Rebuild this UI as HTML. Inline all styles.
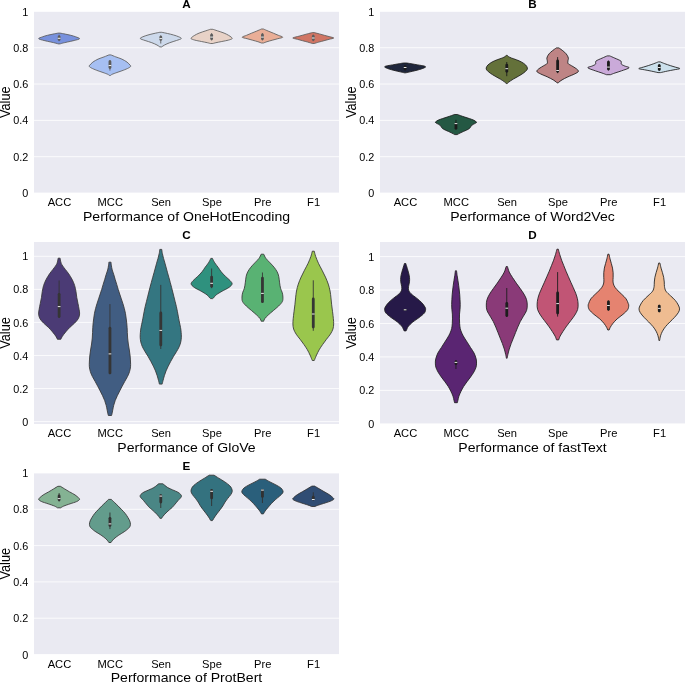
<!DOCTYPE html>
<html><head><meta charset="utf-8"><title>Violin plots</title>
<style>html,body{margin:0;padding:0;background:#fff}body{width:685px;height:682px;overflow:hidden;font-family:"Liberation Sans",sans-serif}</style>
</head><body>
<svg width="685" height="682" viewBox="0 0 685 682" style="display:block;will-change:transform;opacity:0.9999" font-family="'Liberation Sans', sans-serif" fill="#000">
<rect width="685" height="682" fill="#fff"/>
<g>
<rect x="34" y="11.4" width="305" height="181.6" fill="#eaeaf2"/>
<line x1="34" x2="339" y1="193" y2="193" stroke="#fff" stroke-width="0.8"/>
<text transform="translate(28.3 197.1) scale(1.05 1)" font-size="10.3" text-anchor="end">0</text>
<line x1="34" x2="339" y1="156.68" y2="156.68" stroke="#fff" stroke-width="0.8"/>
<text transform="translate(28.3 160.78) scale(1.05 1)" font-size="10.3" text-anchor="end">0.2</text>
<line x1="34" x2="339" y1="120.36" y2="120.36" stroke="#fff" stroke-width="0.8"/>
<text transform="translate(28.3 124.46) scale(1.05 1)" font-size="10.3" text-anchor="end">0.4</text>
<line x1="34" x2="339" y1="84.04" y2="84.04" stroke="#fff" stroke-width="0.8"/>
<text transform="translate(28.3 88.14) scale(1.05 1)" font-size="10.3" text-anchor="end">0.6</text>
<line x1="34" x2="339" y1="47.72" y2="47.72" stroke="#fff" stroke-width="0.8"/>
<text transform="translate(28.3 51.82) scale(1.05 1)" font-size="10.3" text-anchor="end">0.8</text>
<line x1="34" x2="339" y1="11.4" y2="11.4" stroke="#fff" stroke-width="0.8"/>
<text transform="translate(28.3 15.5) scale(1.05 1)" font-size="10.3" text-anchor="end">1</text>
<text transform="translate(186.5 7.9) scale(1.075 1)" font-size="10.9" text-anchor="middle" font-weight="bold">A</text>
<text transform="translate(59.42 206.3) scale(1.075 1)" font-size="10.4" text-anchor="middle">ACC</text>
<text transform="translate(110.25 206.3) scale(1.075 1)" font-size="10.4" text-anchor="middle">MCC</text>
<text transform="translate(161.08 206.3) scale(1.075 1)" font-size="10.4" text-anchor="middle">Sen</text>
<text transform="translate(211.92 206.3) scale(1.075 1)" font-size="10.4" text-anchor="middle">Spe</text>
<text transform="translate(262.75 206.3) scale(1.075 1)" font-size="10.4" text-anchor="middle">Pre</text>
<text transform="translate(313.58 206.3) scale(1.075 1)" font-size="10.4" text-anchor="middle">F1</text>
<text transform="translate(186.5 220.7) scale(1.082 1)" font-size="13.0" text-anchor="middle">Performance of OneHotEncoding</text>
<text transform="translate(9.5 102.2) scale(1.075 1) rotate(-90)" font-size="12.8" text-anchor="middle">Value</text>
<path d="M60.1 33.1C60.96 33.27 63.51 33.73 65.3 34.1C67.08 34.47 69.06 34.85 70.8 35.3C72.53 35.75 74.23 36.23 75.7 36.8C77.16 37.37 79.85 38.08 79.6 38.7C79.35 39.32 76.21 39.95 74.2 40.5C72.18 41.05 69.48 41.55 67.5 42C65.51 42.45 63.53 42.88 62.3 43.2C61.06 43.52 60.46 43.78 60.1 43.9L58.14 43.9C57.77 43.78 57.17 43.52 55.94 43.2C54.7 42.88 52.72 42.45 50.74 42C48.75 41.55 46.05 41.05 44.04 40.5C42.02 39.95 38.89 39.32 38.64 38.7C38.39 38.08 41.07 37.37 42.54 36.8C44 36.23 45.7 35.75 47.44 35.3C49.17 34.85 51.15 34.47 52.94 34.1C54.72 33.73 57.27 33.27 58.14 33.1Z" fill="#7891dd" stroke="#5c5c5c" stroke-width="0.85" stroke-linejoin="round"/>
<line x1="59.12" x2="59.12" y1="34.8" y2="41.2" stroke="#5c5c5c" stroke-width="0.9"/>
<line x1="59.12" x2="59.12" y1="36.8" y2="39.4" stroke="#5c5c5c" stroke-width="2.8" stroke-linecap="round"/>
<line x1="57.77" x2="60.47" y1="38.3" y2="38.3" stroke="#fff" stroke-width="0.9"/>
<path d="M110.93 54.9C111.75 55.23 114.01 56.2 115.83 56.9C117.65 57.6 119.96 58.23 121.83 59.1C123.7 59.97 125.66 61.1 127.03 62.1C128.4 63.1 129.41 64.4 130.03 65.1C130.65 65.8 130.98 65.82 130.73 66.3C130.48 66.78 129.78 67.33 128.53 68C127.28 68.67 125.16 69.55 123.23 70.3C121.3 71.05 118.78 71.83 116.93 72.5C115.08 73.17 113.18 73.82 112.13 74.3C111.08 74.78 110.88 75.22 110.63 75.4L109.27 75.4C109.02 75.22 108.82 74.78 107.77 74.3C106.72 73.82 104.82 73.17 102.97 72.5C101.12 71.83 98.6 71.05 96.67 70.3C94.74 69.55 92.62 68.67 91.37 68C90.12 67.33 89.42 66.78 89.17 66.3C88.92 65.82 89.25 65.8 89.87 65.1C90.49 64.4 91.5 63.1 92.87 62.1C94.24 61.1 96.2 59.97 98.07 59.1C99.94 58.23 102.25 57.6 104.07 56.9C105.89 56.2 108.15 55.23 108.97 54.9Z" fill="#a6bff2" stroke="#5c5c5c" stroke-width="0.85" stroke-linejoin="round"/>
<line x1="109.95" x2="109.95" y1="60.2" y2="70.6" stroke="#5c5c5c" stroke-width="0.9"/>
<line x1="109.95" x2="109.95" y1="61.7" y2="67.5" stroke="#5c5c5c" stroke-width="2.8" stroke-linecap="round"/>
<line x1="108.6" x2="111.3" y1="65.5" y2="65.5" stroke="#fff" stroke-width="0.9"/>
<path d="M161.76 32.3C162.73 32.5 165.6 33.05 167.56 33.5C169.53 33.95 171.7 34.45 173.56 35C175.43 35.55 177.48 36.2 178.76 36.8C180.05 37.4 181.65 37.98 181.26 38.6C180.88 39.22 178.38 39.82 176.46 40.5C174.55 41.18 171.75 41.95 169.76 42.7C167.78 43.45 165.9 44.3 164.56 45C163.23 45.7 162.23 46.58 161.76 46.9L159.8 46.9C159.34 46.58 158.34 45.7 157 45C155.67 44.3 153.79 43.45 151.8 42.7C149.82 41.95 147.02 41.18 145.1 40.5C143.19 39.82 140.69 39.22 140.3 38.6C139.92 37.98 141.52 37.4 142.8 36.8C144.09 36.2 146.14 35.55 148 35C149.87 34.45 152.04 33.95 154 33.5C155.97 33.05 158.84 32.5 159.8 32.3Z" fill="#cdd9eb" stroke="#5c5c5c" stroke-width="0.85" stroke-linejoin="round"/>
<line x1="160.78" x2="160.78" y1="35.3" y2="43.5" stroke="#5c5c5c" stroke-width="0.9"/>
<line x1="160.78" x2="160.78" y1="37.1" y2="39.4" stroke="#5c5c5c" stroke-width="2.8" stroke-linecap="round"/>
<line x1="159.43" x2="162.13" y1="38.6" y2="38.6" stroke="#fff" stroke-width="0.9"/>
<path d="M212.9 29.3C213.65 29.55 215.53 30.17 217.4 30.8C219.26 31.43 222.25 32.35 224.1 33.1C225.95 33.85 227.33 34.63 228.5 35.3C229.66 35.97 230.48 36.55 231.1 37.1C231.71 37.65 232.63 38.1 232.2 38.6C231.76 39.1 230.23 39.62 228.5 40.1C226.76 40.58 223.9 41.07 221.8 41.5C219.7 41.93 217.38 42.37 215.9 42.7C214.41 43.03 213.4 43.37 212.9 43.5L210.34 43.5C209.84 43.37 208.82 43.03 207.34 42.7C205.85 42.37 203.54 41.93 201.44 41.5C199.34 41.07 196.47 40.58 194.74 40.1C193 39.62 191.47 39.1 191.04 38.6C190.6 38.1 191.52 37.65 192.14 37.1C192.75 36.55 193.57 35.97 194.74 35.3C195.9 34.63 197.29 33.85 199.14 33.1C200.99 32.35 203.97 31.43 205.84 30.8C207.7 30.17 209.59 29.55 210.34 29.3Z" fill="#e8d2c7" stroke="#5c5c5c" stroke-width="0.85" stroke-linejoin="round"/>
<line x1="211.62" x2="211.62" y1="33.1" y2="40.5" stroke="#5c5c5c" stroke-width="0.9"/>
<line x1="211.62" x2="211.62" y1="35.2" y2="38.7" stroke="#5c5c5c" stroke-width="2.8" stroke-linecap="round"/>
<line x1="210.27" x2="212.97" y1="37.1" y2="37.1" stroke="#fff" stroke-width="0.9"/>
<path d="M263.43 29C264.23 29.35 266.56 30.4 268.23 31.1C269.9 31.8 271.75 32.5 273.43 33.2C275.11 33.9 276.78 34.63 278.33 35.3C279.88 35.97 282.81 36.63 282.73 37.2C282.65 37.77 279.56 38.2 277.83 38.7C276.1 39.2 274.13 39.7 272.33 40.2C270.53 40.7 268.51 41.23 267.03 41.7C265.55 42.17 264.03 42.78 263.43 43L261.47 43C260.87 42.78 259.35 42.17 257.87 41.7C256.39 41.23 254.37 40.7 252.57 40.2C250.77 39.7 248.8 39.2 247.07 38.7C245.34 38.2 242.25 37.77 242.17 37.2C242.09 36.63 245.02 35.97 246.57 35.3C248.12 34.63 249.79 33.9 251.47 33.2C253.15 32.5 255 31.8 256.67 31.1C258.34 30.4 260.67 29.35 261.47 29Z" fill="#e9ae97" stroke="#5c5c5c" stroke-width="0.85" stroke-linejoin="round"/>
<line x1="262.45" x2="262.45" y1="33.1" y2="40.5" stroke="#5c5c5c" stroke-width="0.9"/>
<line x1="262.45" x2="262.45" y1="34.9" y2="38.7" stroke="#5c5c5c" stroke-width="2.8" stroke-linecap="round"/>
<line x1="261.1" x2="263.8" y1="37.1" y2="37.1" stroke="#fff" stroke-width="0.9"/>
<path d="M314.26 32.6C315.11 32.82 317.68 33.45 319.36 33.9C321.05 34.35 322.73 34.85 324.36 35.3C326 35.75 327.6 36.15 329.16 36.6C330.73 37.05 333.76 37.55 333.76 38C333.76 38.45 330.78 38.85 329.16 39.3C327.55 39.75 325.8 40.23 324.06 40.7C322.33 41.17 320.4 41.63 318.76 42.1C317.13 42.57 315.01 43.27 314.26 43.5L312.3 43.5C311.55 43.27 309.44 42.57 307.8 42.1C306.17 41.63 304.24 41.17 302.5 40.7C300.77 40.23 299.02 39.75 297.4 39.3C295.79 38.85 292.8 38.45 292.8 38C292.8 37.55 295.84 37.05 297.4 36.6C298.97 36.15 300.57 35.75 302.2 35.3C303.84 34.85 305.52 34.35 307.2 33.9C308.89 33.45 311.45 32.82 312.3 32.6Z" fill="#d07564" stroke="#5c5c5c" stroke-width="0.85" stroke-linejoin="round"/>
<line x1="313.28" x2="313.28" y1="34.5" y2="41.2" stroke="#5c5c5c" stroke-width="0.9"/>
<line x1="313.28" x2="313.28" y1="36.4" y2="39.4" stroke="#5c5c5c" stroke-width="2.8" stroke-linecap="round"/>
<line x1="311.93" x2="314.63" y1="38" y2="38" stroke="#fff" stroke-width="0.9"/>
</g>
<g>
<rect x="380" y="11.4" width="305" height="181.6" fill="#eaeaf2"/>
<line x1="380" x2="685" y1="193" y2="193" stroke="#fff" stroke-width="0.8"/>
<text transform="translate(374.3 197.1) scale(1.05 1)" font-size="10.3" text-anchor="end">0</text>
<line x1="380" x2="685" y1="156.68" y2="156.68" stroke="#fff" stroke-width="0.8"/>
<text transform="translate(374.3 160.78) scale(1.05 1)" font-size="10.3" text-anchor="end">0.2</text>
<line x1="380" x2="685" y1="120.36" y2="120.36" stroke="#fff" stroke-width="0.8"/>
<text transform="translate(374.3 124.46) scale(1.05 1)" font-size="10.3" text-anchor="end">0.4</text>
<line x1="380" x2="685" y1="84.04" y2="84.04" stroke="#fff" stroke-width="0.8"/>
<text transform="translate(374.3 88.14) scale(1.05 1)" font-size="10.3" text-anchor="end">0.6</text>
<line x1="380" x2="685" y1="47.72" y2="47.72" stroke="#fff" stroke-width="0.8"/>
<text transform="translate(374.3 51.82) scale(1.05 1)" font-size="10.3" text-anchor="end">0.8</text>
<line x1="380" x2="685" y1="11.4" y2="11.4" stroke="#fff" stroke-width="0.8"/>
<text transform="translate(374.3 15.5) scale(1.05 1)" font-size="10.3" text-anchor="end">1</text>
<text transform="translate(532.5 7.9) scale(1.075 1)" font-size="10.9" text-anchor="middle" font-weight="bold">B</text>
<text transform="translate(405.42 206.3) scale(1.075 1)" font-size="10.4" text-anchor="middle">ACC</text>
<text transform="translate(456.25 206.3) scale(1.075 1)" font-size="10.4" text-anchor="middle">MCC</text>
<text transform="translate(507.08 206.3) scale(1.075 1)" font-size="10.4" text-anchor="middle">Sen</text>
<text transform="translate(557.92 206.3) scale(1.075 1)" font-size="10.4" text-anchor="middle">Spe</text>
<text transform="translate(608.75 206.3) scale(1.075 1)" font-size="10.4" text-anchor="middle">Pre</text>
<text transform="translate(659.58 206.3) scale(1.075 1)" font-size="10.4" text-anchor="middle">F1</text>
<text transform="translate(532.5 220.7) scale(1.082 1)" font-size="13.0" text-anchor="middle">Performance of Word2Vec</text>
<text transform="translate(355.5 102.2) scale(1.075 1) rotate(-90)" font-size="12.8" text-anchor="middle">Value</text>
<path d="M406.8 63C407.5 63.12 409.16 63.38 411 63.7C412.83 64.02 415.63 64.52 417.8 64.9C419.96 65.28 422.7 65.65 424 66C425.3 66.35 425.6 66.68 425.6 67C425.6 67.32 424.73 67.57 424 67.9C423.26 68.23 422.36 68.62 421.2 69C420.03 69.38 418.45 69.82 417 70.2C415.55 70.58 414.01 70.95 412.5 71.3C410.98 71.65 408.98 72.05 407.9 72.3C406.81 72.55 406.31 72.72 406 72.8L404.24 72.8C403.92 72.72 403.42 72.55 402.34 72.3C401.25 72.05 399.25 71.65 397.74 71.3C396.22 70.95 394.69 70.58 393.24 70.2C391.79 69.82 390.2 69.38 389.04 69C387.87 68.62 386.97 68.23 386.24 67.9C385.5 67.57 384.64 67.32 384.64 67C384.64 66.68 384.94 66.35 386.24 66C387.54 65.65 390.27 65.28 392.44 64.9C394.6 64.52 397.4 64.02 399.24 63.7C401.07 63.38 402.74 63.12 403.44 63Z" fill="#1f263c" stroke="#1b1b1b" stroke-width="0.85" stroke-linejoin="round"/>
<line x1="405.12" x2="405.12" y1="65.5" y2="70.3" stroke="#1b1b1b" stroke-width="0.9"/>
<line x1="405.12" x2="405.12" y1="66.7" y2="69.1" stroke="#1b1b1b" stroke-width="2.8" stroke-linecap="round"/>
<line x1="403.77" x2="406.47" y1="67.5" y2="67.5" stroke="#fff" stroke-width="0.9"/>
<path d="M457.63 114.5C458.08 114.68 459.13 115.17 460.33 115.6C461.53 116.03 463.31 116.6 464.83 117.1C466.35 117.6 467.98 118.1 469.43 118.6C470.88 119.1 472.43 119.58 473.53 120.1C474.63 120.62 475.53 121.32 476.03 121.7C476.53 122.08 476.75 122.08 476.53 122.4C476.31 122.72 475.48 123.15 474.73 123.6C473.98 124.05 472.73 124.53 472.03 125.1C471.33 125.67 470.96 126.43 470.53 127C470.1 127.57 470.06 128 469.43 128.5C468.8 129 467.75 129.5 466.73 130C465.71 130.5 464.46 130.98 463.33 131.5C462.2 132.02 460.95 132.58 459.93 133.1C458.91 133.62 457.68 134.35 457.23 134.6L454.67 134.6C454.22 134.35 452.99 133.62 451.97 133.1C450.95 132.58 449.7 132.02 448.57 131.5C447.44 130.98 446.19 130.5 445.17 130C444.15 129.5 443.1 129 442.47 128.5C441.84 128 441.8 127.57 441.37 127C440.94 126.43 440.57 125.67 439.87 125.1C439.17 124.53 437.92 124.05 437.17 123.6C436.42 123.15 435.59 122.72 435.37 122.4C435.15 122.08 435.37 122.08 435.87 121.7C436.37 121.32 437.27 120.62 438.37 120.1C439.47 119.58 441.02 119.1 442.47 118.6C443.92 118.1 445.55 117.6 447.07 117.1C448.59 116.6 450.37 116.03 451.57 115.6C452.77 115.17 453.82 114.68 454.27 114.5Z" fill="#245843" stroke="#1b1b1b" stroke-width="0.85" stroke-linejoin="round"/>
<line x1="455.95" x2="455.95" y1="119.8" y2="129.6" stroke="#1b1b1b" stroke-width="0.9"/>
<line x1="455.95" x2="455.95" y1="123.9" y2="128.2" stroke="#1b1b1b" stroke-width="2.8" stroke-linecap="round"/>
<line x1="454.6" x2="457.3" y1="123.6" y2="123.6" stroke="#fff" stroke-width="0.9"/>
<path d="M507.16 55.3C507.36 55.5 507.66 56.05 508.36 56.5C509.06 56.95 510.01 57.45 511.36 58C512.71 58.55 514.78 59.13 516.46 59.8C518.15 60.47 519.93 61.13 521.46 62C523 62.87 524.68 64 525.66 65C526.65 66 527.2 67.13 527.36 68C527.53 68.87 527.35 69.33 526.66 70.2C525.98 71.07 524.63 72.2 523.26 73.2C521.9 74.2 520.13 75.22 518.46 76.2C516.8 77.18 514.88 78.12 513.26 79.1C511.65 80.08 509.78 81.35 508.76 82.1C507.75 82.85 507.43 83.35 507.16 83.6L506.4 83.6C506.14 83.35 505.82 82.85 504.8 82.1C503.79 81.35 501.92 80.08 500.3 79.1C498.69 78.12 496.77 77.18 495.1 76.2C493.44 75.22 491.67 74.2 490.3 73.2C488.94 72.2 487.59 71.07 486.9 70.2C486.22 69.33 486.04 68.87 486.2 68C486.37 67.13 486.92 66 487.9 65C488.89 64 490.57 62.87 492.1 62C493.64 61.13 495.42 60.47 497.1 59.8C498.79 59.13 500.85 58.55 502.2 58C503.55 57.45 504.5 56.95 505.2 56.5C505.9 56.05 506.2 55.5 506.4 55.3Z" fill="#64713a" stroke="#1b1b1b" stroke-width="0.85" stroke-linejoin="round"/>
<line x1="506.78" x2="506.78" y1="62" y2="76.2" stroke="#1b1b1b" stroke-width="0.9"/>
<line x1="506.78" x2="506.78" y1="65.1" y2="71.3" stroke="#1b1b1b" stroke-width="2.8" stroke-linecap="round"/>
<line x1="505.43" x2="508.13" y1="68.7" y2="68.7" stroke="#fff" stroke-width="0.9"/>
<path d="M558.9 47.9C559.25 48.15 560.03 48.67 561 49.4C561.96 50.13 563.66 51.32 564.7 52.3C565.73 53.28 566.58 54.3 567.2 55.3C567.81 56.3 568.26 57.43 568.4 58.3C568.53 59.17 568.05 59.63 568 60.5C567.95 61.37 567.51 62.63 568.1 63.5C568.68 64.37 570.13 64.83 571.5 65.7C572.86 66.57 575.15 67.75 576.3 68.7C577.45 69.65 578.66 70.53 578.4 71.4C578.13 72.27 576.46 72.98 574.7 73.9C572.93 74.82 569.91 75.9 567.8 76.9C565.68 77.9 563.46 79.03 562 79.9C560.53 80.77 559.63 81.6 559 82.1C558.36 82.6 558.33 82.77 558.2 82.9L557.04 82.9C556.9 82.77 556.87 82.6 556.24 82.1C555.6 81.6 554.7 80.77 553.24 79.9C551.77 79.03 549.55 77.9 547.44 76.9C545.32 75.9 542.3 74.82 540.54 73.9C538.77 72.98 537.1 72.27 536.84 71.4C536.57 70.53 537.79 69.65 538.94 68.7C540.09 67.75 542.37 66.57 543.74 65.7C545.1 64.83 546.55 64.37 547.14 63.5C547.72 62.63 547.29 61.37 547.24 60.5C547.19 59.63 546.7 59.17 546.84 58.3C546.97 57.43 547.42 56.3 548.04 55.3C548.65 54.3 549.5 53.28 550.54 52.3C551.57 51.32 553.27 50.13 554.24 49.4C555.2 48.67 555.99 48.15 556.34 47.9Z" fill="#be8485" stroke="#1b1b1b" stroke-width="0.85" stroke-linejoin="round"/>
<line x1="557.62" x2="557.62" y1="57.1" y2="73.2" stroke="#1b1b1b" stroke-width="0.9"/>
<line x1="557.62" x2="557.62" y1="60.9" y2="71.3" stroke="#1b1b1b" stroke-width="2.8" stroke-linecap="round"/>
<line x1="556.27" x2="558.97" y1="70.5" y2="70.5" stroke="#fff" stroke-width="0.9"/>
<path d="M609.73 55.9C610.56 56.27 612.86 57.23 614.73 58.1C616.6 58.97 619.83 60.1 620.93 61.1C622.03 62.1 620.7 63.28 621.33 64.1C621.96 64.92 623.45 65.38 624.73 66C626.01 66.62 629.55 67 629.03 67.8C628.51 68.6 623.98 69.93 621.63 70.8C619.28 71.67 616.8 72.35 614.93 73C613.06 73.65 611.18 74.42 610.43 74.7L606.47 74.7C605.72 74.42 603.84 73.65 601.97 73C600.1 72.35 597.62 71.67 595.27 70.8C592.92 69.93 588.39 68.6 587.87 67.8C587.35 67 590.89 66.62 592.17 66C593.45 65.38 594.94 64.92 595.57 64.1C596.2 63.28 594.87 62.1 595.97 61.1C597.07 60.1 600.3 58.97 602.17 58.1C604.04 57.23 606.34 56.27 607.17 55.9Z" fill="#caaad9" stroke="#1b1b1b" stroke-width="0.85" stroke-linejoin="round"/>
<line x1="608.45" x2="608.45" y1="60.6" y2="70.4" stroke="#1b1b1b" stroke-width="0.9"/>
<line x1="608.45" x2="608.45" y1="62.2" y2="69" stroke="#1b1b1b" stroke-width="2.8" stroke-linecap="round"/>
<line x1="607.1" x2="609.8" y1="67.1" y2="67.1" stroke="#fff" stroke-width="0.9"/>
<path d="M660.26 61.9C661.01 62.2 663.1 63.08 664.76 63.7C666.43 64.32 668.53 65.03 670.26 65.6C672 66.17 673.58 66.6 675.16 67.1C676.75 67.6 679.96 68.15 679.76 68.6C679.56 69.05 676.05 69.38 673.96 69.8C671.88 70.22 669.5 70.63 667.26 71.1C665.03 71.57 661.68 72.35 660.56 72.6L658 72.6C656.89 72.35 653.54 71.57 651.3 71.1C649.07 70.63 646.69 70.22 644.6 69.8C642.52 69.38 639 69.05 638.8 68.6C638.6 68.15 641.82 67.6 643.4 67.1C644.99 66.6 646.57 66.17 648.3 65.6C650.04 65.03 652.14 64.32 653.8 63.7C655.47 63.08 657.55 62.2 658.3 61.9Z" fill="#cce0ec" stroke="#1b1b1b" stroke-width="0.85" stroke-linejoin="round"/>
<line x1="659.28" x2="659.28" y1="64.1" y2="70.8" stroke="#1b1b1b" stroke-width="0.9"/>
<line x1="659.28" x2="659.28" y1="65.6" y2="69.4" stroke="#1b1b1b" stroke-width="2.8" stroke-linecap="round"/>
<line x1="657.93" x2="660.63" y1="67.5" y2="67.5" stroke="#fff" stroke-width="0.9"/>
</g>
<g>
<rect x="34" y="242" width="305" height="182" fill="#eaeaf2"/>
<line x1="34" x2="339" y1="421.6" y2="421.6" stroke="#fff" stroke-width="0.8"/>
<text transform="translate(28.3 425.7) scale(1.05 1)" font-size="10.3" text-anchor="end">0</text>
<line x1="34" x2="339" y1="388.54" y2="388.54" stroke="#fff" stroke-width="0.8"/>
<text transform="translate(28.3 392.64) scale(1.05 1)" font-size="10.3" text-anchor="end">0.2</text>
<line x1="34" x2="339" y1="355.48" y2="355.48" stroke="#fff" stroke-width="0.8"/>
<text transform="translate(28.3 359.58) scale(1.05 1)" font-size="10.3" text-anchor="end">0.4</text>
<line x1="34" x2="339" y1="322.42" y2="322.42" stroke="#fff" stroke-width="0.8"/>
<text transform="translate(28.3 326.52) scale(1.05 1)" font-size="10.3" text-anchor="end">0.6</text>
<line x1="34" x2="339" y1="289.36" y2="289.36" stroke="#fff" stroke-width="0.8"/>
<text transform="translate(28.3 293.46) scale(1.05 1)" font-size="10.3" text-anchor="end">0.8</text>
<line x1="34" x2="339" y1="256.3" y2="256.3" stroke="#fff" stroke-width="0.8"/>
<text transform="translate(28.3 260.4) scale(1.05 1)" font-size="10.3" text-anchor="end">1</text>
<text transform="translate(186.5 238.5) scale(1.075 1)" font-size="10.9" text-anchor="middle" font-weight="bold">C</text>
<text transform="translate(59.42 437.3) scale(1.075 1)" font-size="10.4" text-anchor="middle">ACC</text>
<text transform="translate(110.25 437.3) scale(1.075 1)" font-size="10.4" text-anchor="middle">MCC</text>
<text transform="translate(161.08 437.3) scale(1.075 1)" font-size="10.4" text-anchor="middle">Sen</text>
<text transform="translate(211.92 437.3) scale(1.075 1)" font-size="10.4" text-anchor="middle">Spe</text>
<text transform="translate(262.75 437.3) scale(1.075 1)" font-size="10.4" text-anchor="middle">Pre</text>
<text transform="translate(313.58 437.3) scale(1.075 1)" font-size="10.4" text-anchor="middle">F1</text>
<text transform="translate(186.5 451.7) scale(1.082 1)" font-size="13.0" text-anchor="middle">Performance of GloVe</text>
<text transform="translate(9.5 333) scale(1.075 1) rotate(-90)" font-size="12.8" text-anchor="middle">Value</text>
<path d="M60.1 258.2C60.21 258.82 60.48 260.78 60.8 261.9C61.11 263.02 61.25 263.65 62 264.9C62.75 266.15 64.18 267.92 65.3 269.4C66.41 270.88 67.53 272.07 68.7 273.8C69.86 275.53 71.3 277.82 72.3 279.8C73.3 281.78 74.08 283.72 74.7 285.7C75.31 287.68 75.65 289.72 76 291.7C76.35 293.68 76.46 295.62 76.8 297.6C77.13 299.58 77.61 301.6 78 303.6C78.39 305.6 78.88 307.87 79.15 309.6C79.41 311.33 79.72 312.52 79.6 314C79.47 315.48 79.21 317 78.4 318.5C77.58 320 76.13 321.52 74.7 323C73.26 324.48 71.3 325.92 69.8 327.4C68.3 328.88 66.95 330.4 65.7 331.9C64.45 333.4 63.11 335.17 62.3 336.4C61.48 337.63 61.05 338.82 60.8 339.3L57.44 339.3C57.19 338.82 56.75 337.63 55.94 336.4C55.12 335.17 53.79 333.4 52.54 331.9C51.29 330.4 49.94 328.88 48.44 327.4C46.94 325.92 44.97 324.48 43.54 323C42.1 321.52 40.65 320 39.84 318.5C39.02 317 38.76 315.48 38.64 314C38.51 312.52 38.82 311.33 39.09 309.6C39.35 307.87 39.85 305.6 40.24 303.6C40.63 301.6 41.1 299.58 41.44 297.6C41.77 295.62 41.89 293.68 42.24 291.7C42.59 289.72 42.92 287.68 43.54 285.7C44.15 283.72 44.94 281.78 45.94 279.8C46.94 277.82 48.37 275.53 49.54 273.8C50.7 272.07 51.82 270.88 52.94 269.4C54.05 267.92 55.49 266.15 56.24 264.9C56.99 263.65 57.12 263.02 57.44 261.9C57.75 260.78 58.02 258.82 58.14 258.2Z" fill="#4b3b75" stroke="#353535" stroke-width="0.85" stroke-linejoin="round"/>
<line x1="59.12" x2="59.12" y1="280.5" y2="317.7" stroke="#353535" stroke-width="0.9"/>
<line x1="59.12" x2="59.12" y1="294.3" y2="316.6" stroke="#353535" stroke-width="2.8" stroke-linecap="round"/>
<line x1="57.77" x2="60.47" y1="306.6" y2="306.6" stroke="#fff" stroke-width="0.9"/>
<path d="M111.03 262.2C111.08 262.7 111.13 263.9 111.33 265.2C111.53 266.5 111.81 268.4 112.23 270C112.65 271.6 113.33 273.2 113.83 274.8C114.33 276.4 114.75 278 115.23 279.6C115.71 281.2 116.25 282.8 116.73 284.4C117.21 286 117.63 287.58 118.13 289.2C118.63 290.82 119.2 292.48 119.73 294.1C120.26 295.72 120.8 297.3 121.33 298.9C121.86 300.5 122.43 302.1 122.93 303.7C123.43 305.3 123.91 306.9 124.33 308.5C124.75 310.1 125.13 311.7 125.43 313.3C125.73 314.9 125.91 316.5 126.13 318.1C126.35 319.7 126.56 321.3 126.73 322.9C126.9 324.5 127.03 326.1 127.13 327.7C127.23 329.3 127.25 330.78 127.33 332.5C127.41 334.22 127.46 336.08 127.63 338C127.8 339.92 128.05 342 128.33 344C128.61 346 129.03 348 129.33 350C129.63 352 129.93 354 130.13 356C130.33 358 130.46 360.2 130.53 362C130.6 363.8 130.7 365.18 130.53 366.8C130.36 368.42 130.03 370.08 129.53 371.7C129.03 373.32 128.31 374.9 127.53 376.5C126.75 378.1 125.71 379.7 124.83 381.3C123.95 382.9 123.08 384.5 122.23 386.1C121.38 387.7 120.55 389.3 119.73 390.9C118.91 392.5 118.08 394.1 117.33 395.7C116.58 397.3 115.83 398.9 115.23 400.5C114.63 402.1 114.15 403.7 113.73 405.3C113.31 406.9 113.01 408.7 112.73 410.1C112.45 411.5 112.23 412.8 112.03 413.7C111.83 414.6 111.61 415.2 111.53 415.5L108.37 415.5C108.29 415.2 108.07 414.6 107.87 413.7C107.67 412.8 107.45 411.5 107.17 410.1C106.89 408.7 106.59 406.9 106.17 405.3C105.75 403.7 105.27 402.1 104.67 400.5C104.07 398.9 103.32 397.3 102.57 395.7C101.82 394.1 100.99 392.5 100.17 390.9C99.35 389.3 98.52 387.7 97.67 386.1C96.82 384.5 95.95 382.9 95.07 381.3C94.19 379.7 93.15 378.1 92.37 376.5C91.59 374.9 90.87 373.32 90.37 371.7C89.87 370.08 89.54 368.42 89.37 366.8C89.2 365.18 89.3 363.8 89.37 362C89.44 360.2 89.57 358 89.77 356C89.97 354 90.27 352 90.57 350C90.87 348 91.29 346 91.57 344C91.85 342 92.1 339.92 92.27 338C92.44 336.08 92.49 334.22 92.57 332.5C92.65 330.78 92.67 329.3 92.77 327.7C92.87 326.1 93 324.5 93.17 322.9C93.34 321.3 93.55 319.7 93.77 318.1C93.99 316.5 94.17 314.9 94.47 313.3C94.77 311.7 95.15 310.1 95.57 308.5C95.99 306.9 96.47 305.3 96.97 303.7C97.47 302.1 98.04 300.5 98.57 298.9C99.1 297.3 99.64 295.72 100.17 294.1C100.7 292.48 101.27 290.82 101.77 289.2C102.27 287.58 102.69 286 103.17 284.4C103.65 282.8 104.19 281.2 104.67 279.6C105.15 278 105.57 276.4 106.07 274.8C106.57 273.2 107.25 271.6 107.67 270C108.09 268.4 108.37 266.5 108.57 265.2C108.77 263.9 108.82 262.7 108.87 262.2Z" fill="#415d82" stroke="#353535" stroke-width="0.85" stroke-linejoin="round"/>
<line x1="109.95" x2="109.95" y1="304.1" y2="374.1" stroke="#353535" stroke-width="0.9"/>
<line x1="109.95" x2="109.95" y1="328.2" y2="372.9" stroke="#353535" stroke-width="2.8" stroke-linecap="round"/>
<line x1="108.6" x2="111.3" y1="353.9" y2="353.9" stroke="#fff" stroke-width="0.9"/>
<path d="M161.76 249.4C161.86 250.1 162.06 252.1 162.36 253.6C162.66 255.1 163.13 256.8 163.56 258.4C164 260 164.51 261.6 164.96 263.2C165.41 264.8 165.83 266.4 166.26 268C166.7 269.6 167.11 271.18 167.56 272.8C168.01 274.42 168.51 276.08 168.96 277.7C169.41 279.32 169.83 280.9 170.26 282.5C170.7 284.1 171.15 285.7 171.56 287.3C171.98 288.9 172.36 290.5 172.76 292.1C173.16 293.7 173.56 295.3 173.96 296.9C174.36 298.5 174.76 300.1 175.16 301.7C175.56 303.3 176 304.9 176.36 306.5C176.73 308.1 177.05 309.7 177.36 311.3C177.68 312.9 177.96 314.5 178.26 316.1C178.56 317.7 178.78 318.98 179.16 320.9C179.55 322.82 180.23 325.68 180.56 327.6C180.9 329.52 181.03 330.8 181.16 332.4C181.3 334 181.43 335.6 181.36 337.2C181.3 338.8 181.13 340.4 180.76 342C180.4 343.6 179.88 345.18 179.16 346.8C178.45 348.42 177.41 350.08 176.46 351.7C175.51 353.32 174.41 354.9 173.46 356.5C172.51 358.1 171.63 359.7 170.76 361.3C169.9 362.9 169.05 364.5 168.26 366.1C167.48 367.7 166.71 369.3 166.06 370.9C165.41 372.5 164.86 374.1 164.36 375.7C163.86 377.3 163.43 379.1 163.06 380.5C162.7 381.9 162.31 383.5 162.16 384.1L159.4 384.1C159.25 383.5 158.87 381.9 158.5 380.5C158.14 379.1 157.7 377.3 157.2 375.7C156.7 374.1 156.15 372.5 155.5 370.9C154.85 369.3 154.09 367.7 153.3 366.1C152.52 364.5 151.67 362.9 150.8 361.3C149.94 359.7 149.05 358.1 148.1 356.5C147.15 354.9 146.05 353.32 145.1 351.7C144.15 350.08 143.12 348.42 142.4 346.8C141.69 345.18 141.17 343.6 140.8 342C140.44 340.4 140.27 338.8 140.2 337.2C140.14 335.6 140.27 334 140.4 332.4C140.54 330.8 140.67 329.52 141 327.6C141.34 325.68 142.02 322.82 142.4 320.9C142.79 318.98 143 317.7 143.3 316.1C143.6 314.5 143.89 312.9 144.2 311.3C144.52 309.7 144.84 308.1 145.2 306.5C145.57 304.9 146 303.3 146.4 301.7C146.8 300.1 147.2 298.5 147.6 296.9C148 295.3 148.4 293.7 148.8 292.1C149.2 290.5 149.59 288.9 150 287.3C150.42 285.7 150.87 284.1 151.3 282.5C151.74 280.9 152.15 279.32 152.6 277.7C153.05 276.08 153.55 274.42 154 272.8C154.45 271.18 154.87 269.6 155.3 268C155.74 266.4 156.15 264.8 156.6 263.2C157.05 261.6 157.57 260 158 258.4C158.44 256.8 158.9 255.1 159.2 253.6C159.5 252.1 159.7 250.1 159.8 249.4Z" fill="#347681" stroke="#353535" stroke-width="0.85" stroke-linejoin="round"/>
<line x1="160.78" x2="160.78" y1="284.9" y2="349" stroke="#353535" stroke-width="0.9"/>
<line x1="160.78" x2="160.78" y1="313" y2="345.1" stroke="#353535" stroke-width="2.8" stroke-linecap="round"/>
<line x1="159.43" x2="162.13" y1="330.4" y2="330.4" stroke="#fff" stroke-width="0.9"/>
<path d="M212.4 258.4C212.8 259.15 213.85 261.42 214.8 262.9C215.75 264.38 217.03 265.82 218.1 267.3C219.16 268.78 219.98 270.3 221.2 271.8C222.41 273.3 223.9 274.82 225.4 276.3C226.9 277.78 229.08 279.42 230.2 280.7C231.31 281.98 232.3 282.88 232.1 284C231.9 285.12 230.66 286.2 229 287.4C227.33 288.6 224.23 289.95 222.1 291.2C219.96 292.45 217.63 293.78 216.2 294.9C214.76 296.02 214.1 297.28 213.5 297.9C212.9 298.52 212.75 298.48 212.6 298.6L210.64 298.6C210.49 298.48 210.34 298.52 209.74 297.9C209.14 297.28 208.47 296.02 207.04 294.9C205.6 293.78 203.27 292.45 201.14 291.2C199 289.95 195.9 288.6 194.24 287.4C192.57 286.2 191.34 285.12 191.14 284C190.94 282.88 191.92 281.98 193.04 280.7C194.15 279.42 196.34 277.78 197.84 276.3C199.34 274.82 200.82 273.3 202.04 271.8C203.25 270.3 204.07 268.78 205.14 267.3C206.2 265.82 207.49 264.38 208.44 262.9C209.39 261.42 210.44 259.15 210.84 258.4Z" fill="#2f917e" stroke="#353535" stroke-width="0.85" stroke-linejoin="round"/>
<line x1="211.62" x2="211.62" y1="268.5" y2="288.2" stroke="#353535" stroke-width="0.9"/>
<line x1="211.62" x2="211.62" y1="277.1" y2="286.3" stroke="#353535" stroke-width="2.8" stroke-linecap="round"/>
<line x1="210.27" x2="212.97" y1="283.3" y2="283.3" stroke="#fff" stroke-width="0.9"/>
<path d="M263.73 254.2C264.1 254.9 264.86 256.95 265.93 258.4C267 259.85 268.76 261.42 270.13 262.9C271.5 264.38 272.96 265.82 274.13 267.3C275.3 268.78 276.36 270.3 277.13 271.8C277.9 273.3 278.33 274.57 278.73 276.3C279.13 278.03 279.23 280.22 279.53 282.2C279.83 284.18 280.08 286.47 280.53 288.2C280.98 289.93 281.83 291.12 282.23 292.6C282.63 294.08 282.91 295.6 282.93 297.1C282.95 298.6 283.05 300.12 282.33 301.6C281.61 303.08 280.11 304.52 278.63 306C277.15 307.48 275.16 309 273.43 310.5C271.7 312 269.68 313.63 268.23 315C266.78 316.37 265.48 317.67 264.73 318.7C263.98 319.73 263.9 320.78 263.73 321.2L261.17 321.2C261 320.78 260.92 319.73 260.17 318.7C259.42 317.67 258.12 316.37 256.67 315C255.22 313.63 253.2 312 251.47 310.5C249.74 309 247.75 307.48 246.27 306C244.79 304.52 243.29 303.08 242.57 301.6C241.85 300.12 241.95 298.6 241.97 297.1C241.99 295.6 242.27 294.08 242.67 292.6C243.07 291.12 243.92 289.93 244.37 288.2C244.82 286.47 245.07 284.18 245.37 282.2C245.67 280.22 245.77 278.03 246.17 276.3C246.57 274.57 247 273.3 247.77 271.8C248.54 270.3 249.6 268.78 250.77 267.3C251.94 265.82 253.4 264.38 254.77 262.9C256.14 261.42 257.9 259.85 258.97 258.4C260.04 256.95 260.8 254.9 261.17 254.2Z" fill="#59b273" stroke="#353535" stroke-width="0.85" stroke-linejoin="round"/>
<line x1="262.45" x2="262.45" y1="272.5" y2="302.8" stroke="#353535" stroke-width="0.9"/>
<line x1="262.45" x2="262.45" y1="278.1" y2="301.7" stroke="#353535" stroke-width="2.8" stroke-linecap="round"/>
<line x1="261.1" x2="263.8" y1="293.4" y2="293.4" stroke="#fff" stroke-width="0.9"/>
<path d="M314.26 251.2C314.5 252.07 314.96 254.38 315.66 256.4C316.36 258.42 317.4 261 318.46 263.3C319.53 265.6 320.9 267.9 322.06 270.2C323.23 272.5 324.43 274.78 325.46 277.1C326.5 279.42 327.5 281.78 328.26 284.1C329.03 286.42 329.61 288.7 330.06 291C330.51 293.3 330.7 295.6 330.96 297.9C331.23 300.2 331.4 302.5 331.66 304.8C331.93 307.1 332.28 309.38 332.56 311.7C332.85 314.02 333.18 316.67 333.36 318.7C333.55 320.73 333.73 322.18 333.66 323.9C333.6 325.62 333.51 327.28 332.96 329C332.41 330.72 331.46 332.47 330.36 334.2C329.26 335.93 327.66 337.67 326.36 339.4C325.06 341.13 323.76 342.87 322.56 344.6C321.36 346.33 320.16 348.07 319.16 349.8C318.16 351.53 317.3 353.42 316.56 355C315.83 356.58 315.15 358.38 314.76 359.3C314.38 360.22 314.35 360.3 314.26 360.5L312.3 360.5C312.22 360.3 312.19 360.22 311.8 359.3C311.42 358.38 310.74 356.58 310 355C309.27 353.42 308.4 351.53 307.4 349.8C306.4 348.07 305.2 346.33 304 344.6C302.8 342.87 301.5 341.13 300.2 339.4C298.9 337.67 297.3 335.93 296.2 334.2C295.1 332.47 294.15 330.72 293.6 329C293.05 327.28 292.97 325.62 292.9 323.9C292.84 322.18 293.02 320.73 293.2 318.7C293.39 316.67 293.72 314.02 294 311.7C294.29 309.38 294.64 307.1 294.9 304.8C295.17 302.5 295.34 300.2 295.6 297.9C295.87 295.6 296.05 293.3 296.5 291C296.95 288.7 297.54 286.42 298.3 284.1C299.07 281.78 300.07 279.42 301.1 277.1C302.14 274.78 303.34 272.5 304.5 270.2C305.67 267.9 307.04 265.6 308.1 263.3C309.17 261 310.2 258.42 310.9 256.4C311.6 254.38 312.07 252.07 312.3 251.2Z" fill="#9ac64d" stroke="#353535" stroke-width="0.85" stroke-linejoin="round"/>
<line x1="313.28" x2="313.28" y1="280.3" y2="330.8" stroke="#353535" stroke-width="0.9"/>
<line x1="313.28" x2="313.28" y1="299" y2="327.1" stroke="#353535" stroke-width="2.8" stroke-linecap="round"/>
<line x1="311.93" x2="314.63" y1="314" y2="314" stroke="#fff" stroke-width="0.9"/>
</g>
<g>
<rect x="380" y="242" width="305" height="182" fill="#eaeaf2"/>
<line x1="380" x2="685" y1="423.8" y2="423.8" stroke="#fff" stroke-width="0.8"/>
<text transform="translate(374.3 427.9) scale(1.05 1)" font-size="10.3" text-anchor="end">0</text>
<line x1="380" x2="685" y1="390.36" y2="390.36" stroke="#fff" stroke-width="0.8"/>
<text transform="translate(374.3 394.46) scale(1.05 1)" font-size="10.3" text-anchor="end">0.2</text>
<line x1="380" x2="685" y1="356.92" y2="356.92" stroke="#fff" stroke-width="0.8"/>
<text transform="translate(374.3 361.02) scale(1.05 1)" font-size="10.3" text-anchor="end">0.4</text>
<line x1="380" x2="685" y1="323.48" y2="323.48" stroke="#fff" stroke-width="0.8"/>
<text transform="translate(374.3 327.58) scale(1.05 1)" font-size="10.3" text-anchor="end">0.6</text>
<line x1="380" x2="685" y1="290.04" y2="290.04" stroke="#fff" stroke-width="0.8"/>
<text transform="translate(374.3 294.14) scale(1.05 1)" font-size="10.3" text-anchor="end">0.8</text>
<line x1="380" x2="685" y1="256.6" y2="256.6" stroke="#fff" stroke-width="0.8"/>
<text transform="translate(374.3 260.7) scale(1.05 1)" font-size="10.3" text-anchor="end">1</text>
<text transform="translate(532.5 238.5) scale(1.075 1)" font-size="10.9" text-anchor="middle" font-weight="bold">D</text>
<text transform="translate(405.42 437.3) scale(1.075 1)" font-size="10.4" text-anchor="middle">ACC</text>
<text transform="translate(456.25 437.3) scale(1.075 1)" font-size="10.4" text-anchor="middle">MCC</text>
<text transform="translate(507.08 437.3) scale(1.075 1)" font-size="10.4" text-anchor="middle">Sen</text>
<text transform="translate(557.92 437.3) scale(1.075 1)" font-size="10.4" text-anchor="middle">Spe</text>
<text transform="translate(608.75 437.3) scale(1.075 1)" font-size="10.4" text-anchor="middle">Pre</text>
<text transform="translate(659.58 437.3) scale(1.075 1)" font-size="10.4" text-anchor="middle">F1</text>
<text transform="translate(532.5 451.7) scale(1.082 1)" font-size="13.0" text-anchor="middle">Performance of fastText</text>
<text transform="translate(355.5 333) scale(1.075 1) rotate(-90)" font-size="12.8" text-anchor="middle">Value</text>
<path d="M405.8 263.5C406.05 264.32 406.83 266.83 407.3 268.4C407.76 269.97 408.23 271.42 408.6 272.9C408.96 274.38 409.35 275.82 409.5 277.3C409.65 278.78 409.65 280.3 409.5 281.8C409.35 283.3 408.75 284.93 408.6 286.3C408.45 287.67 408.2 288.77 408.6 290C409 291.23 409.65 292.33 411 293.7C412.35 295.07 414.91 296.72 416.7 298.2C418.48 299.68 420.31 301.12 421.7 302.6C423.08 304.08 424.35 305.9 425 307.1C425.65 308.3 425.71 308.8 425.6 309.8C425.48 310.8 425.36 311.82 424.3 313.1C423.23 314.38 421.11 316.02 419.2 317.5C417.28 318.98 414.61 320.5 412.8 322C410.98 323.5 409.3 325.27 408.3 326.5C407.3 327.73 407.16 328.67 406.8 329.4C406.43 330.13 406.21 330.65 406.1 330.9L404.14 330.9C404.02 330.65 403.8 330.13 403.44 329.4C403.07 328.67 402.94 327.73 401.94 326.5C400.94 325.27 399.25 323.5 397.44 322C395.62 320.5 392.95 318.98 391.04 317.5C389.12 316.02 387 314.38 385.94 313.1C384.87 311.82 384.75 310.8 384.64 309.8C384.52 308.8 384.59 308.3 385.24 307.1C385.89 305.9 387.15 304.08 388.54 302.6C389.92 301.12 391.75 299.68 393.54 298.2C395.32 296.72 397.89 295.07 399.24 293.7C400.59 292.33 401.24 291.23 401.64 290C402.04 288.77 401.79 287.67 401.64 286.3C401.49 284.93 400.89 283.3 400.74 281.8C400.59 280.3 400.59 278.78 400.74 277.3C400.89 275.82 401.27 274.38 401.64 272.9C402 271.42 402.47 269.97 402.94 268.4C403.4 266.83 404.19 264.32 404.44 263.5Z" fill="#261948" stroke="#1d1d1d" stroke-width="0.85" stroke-linejoin="round"/>
<line x1="403.52" x2="406.72" y1="309.8" y2="309.8" stroke="#1d1d1d" stroke-width="1.6"/>
<line x1="403.77" x2="406.47" y1="309.8" y2="309.8" stroke="#fff" stroke-width="0.9"/>
<path d="M456.53 270.8C456.63 271.6 456.9 274 457.13 275.6C457.36 277.2 457.68 278.8 457.93 280.4C458.18 282 458.41 283.6 458.63 285.2C458.85 286.8 459.05 288.4 459.23 290C459.41 291.6 459.6 293.18 459.73 294.8C459.86 296.42 459.95 298.08 460.03 299.7C460.11 301.32 460.23 302.9 460.23 304.5C460.23 306.1 460.15 307.7 460.03 309.3C459.91 310.9 459.63 312.5 459.53 314.1C459.43 315.7 459.41 317.3 459.43 318.9C459.45 320.5 459.5 322.1 459.63 323.7C459.76 325.3 459.85 326.9 460.23 328.5C460.61 330.1 461.21 331.7 461.93 333.3C462.65 334.9 463.58 336.5 464.53 338.1C465.48 339.7 466.61 341.3 467.63 342.9C468.65 344.5 469.56 346.02 470.63 347.7C471.7 349.38 473.11 351.15 474.03 353C474.95 354.85 475.71 357.12 476.13 358.8C476.55 360.48 476.55 361.68 476.53 363.1C476.51 364.52 476.48 365.8 476.03 367.3C475.58 368.8 474.73 370.5 473.83 372.1C472.93 373.7 471.76 375.3 470.63 376.9C469.5 378.5 468.2 380.1 467.03 381.7C465.86 383.3 464.63 384.9 463.63 386.5C462.63 388.1 461.81 389.7 461.03 391.3C460.25 392.9 459.45 394.6 458.93 396.1C458.41 397.6 458.2 399.2 457.93 400.3C457.66 401.4 457.43 402.3 457.33 402.7L454.57 402.7C454.47 402.3 454.24 401.4 453.97 400.3C453.7 399.2 453.49 397.6 452.97 396.1C452.45 394.6 451.65 392.9 450.87 391.3C450.09 389.7 449.27 388.1 448.27 386.5C447.27 384.9 446.04 383.3 444.87 381.7C443.7 380.1 442.4 378.5 441.27 376.9C440.14 375.3 438.97 373.7 438.07 372.1C437.17 370.5 436.32 368.8 435.87 367.3C435.42 365.8 435.39 364.52 435.37 363.1C435.35 361.68 435.35 360.48 435.77 358.8C436.19 357.12 436.95 354.85 437.87 353C438.79 351.15 440.2 349.38 441.27 347.7C442.34 346.02 443.25 344.5 444.27 342.9C445.29 341.3 446.42 339.7 447.37 338.1C448.32 336.5 449.25 334.9 449.97 333.3C450.69 331.7 451.29 330.1 451.67 328.5C452.05 326.9 452.14 325.3 452.27 323.7C452.4 322.1 452.45 320.5 452.47 318.9C452.49 317.3 452.47 315.7 452.37 314.1C452.27 312.5 451.99 310.9 451.87 309.3C451.75 307.7 451.67 306.1 451.67 304.5C451.67 302.9 451.79 301.32 451.87 299.7C451.95 298.08 452.04 296.42 452.17 294.8C452.3 293.18 452.49 291.6 452.67 290C452.85 288.4 453.05 286.8 453.27 285.2C453.49 283.6 453.72 282 453.97 280.4C454.22 278.8 454.54 277.2 454.77 275.6C455 274 455.27 271.6 455.37 270.8Z" fill="#5a2572" stroke="#1d1d1d" stroke-width="0.85" stroke-linejoin="round"/>
<line x1="455.95" x2="455.95" y1="360" y2="369" stroke="#1d1d1d" stroke-width="0.9"/>
<line x1="455.95" x2="455.95" y1="361.8" y2="363.7" stroke="#1d1d1d" stroke-width="2.8" stroke-linecap="round"/>
<line x1="454.6" x2="457.3" y1="362.4" y2="362.4" stroke="#fff" stroke-width="0.9"/>
<path d="M507.46 266.6C507.76 267.52 508.41 270.27 509.26 272.1C510.11 273.93 511.4 275.77 512.56 277.6C513.73 279.43 514.98 281.27 516.26 283.1C517.55 284.93 518.98 286.77 520.26 288.6C521.55 290.43 522.91 292.27 523.96 294.1C525.01 295.93 526.01 297.77 526.56 299.6C527.11 301.43 527.26 303.27 527.26 305.1C527.26 306.93 527.2 308.77 526.56 310.6C525.93 312.43 524.51 314.27 523.46 316.1C522.41 317.93 521.21 319.77 520.26 321.6C519.31 323.43 518.55 325.27 517.76 327.1C516.98 328.93 516.3 330.77 515.56 332.6C514.83 334.43 514.1 336.27 513.36 338.1C512.63 339.93 511.85 341.77 511.16 343.6C510.48 345.43 509.81 347.27 509.26 349.1C508.71 350.93 508.21 353.08 507.86 354.6C507.51 356.12 507.28 357.6 507.16 358.2L506.4 358.2C506.29 357.6 506.05 356.12 505.7 354.6C505.35 353.08 504.85 350.93 504.3 349.1C503.75 347.27 503.09 345.43 502.4 343.6C501.72 341.77 500.94 339.93 500.2 338.1C499.47 336.27 498.74 334.43 498 332.6C497.27 330.77 496.59 328.93 495.8 327.1C495.02 325.27 494.25 323.43 493.3 321.6C492.35 319.77 491.15 317.93 490.1 316.1C489.05 314.27 487.64 312.43 487 310.6C486.37 308.77 486.3 306.93 486.3 305.1C486.3 303.27 486.45 301.43 487 299.6C487.55 297.77 488.55 295.93 489.6 294.1C490.65 292.27 492.02 290.43 493.3 288.6C494.59 286.77 496.02 284.93 497.3 283.1C498.59 281.27 499.84 279.43 501 277.6C502.17 275.77 503.45 273.93 504.3 272.1C505.15 270.27 505.8 267.52 506.1 266.6Z" fill="#8a3a78" stroke="#1d1d1d" stroke-width="0.85" stroke-linejoin="round"/>
<line x1="506.78" x2="506.78" y1="288" y2="317" stroke="#1d1d1d" stroke-width="0.9"/>
<line x1="506.78" x2="506.78" y1="303.4" y2="315.5" stroke="#1d1d1d" stroke-width="2.8" stroke-linecap="round"/>
<line x1="505.43" x2="508.13" y1="308.2" y2="308.2" stroke="#fff" stroke-width="0.9"/>
<path d="M558.3 249.2C558.55 250.12 559.25 252.87 559.8 254.7C560.35 256.53 560.93 258.37 561.6 260.2C562.26 262.03 563.06 263.87 563.8 265.7C564.53 267.53 565.23 269.37 566 271.2C566.76 273.03 567.6 274.87 568.4 276.7C569.2 278.53 569.98 280.37 570.8 282.2C571.61 284.03 572.48 285.87 573.3 287.7C574.11 289.53 575.01 291.37 575.7 293.2C576.38 295.03 577 296.88 577.4 298.7C577.8 300.52 578.06 302.28 578.1 304.1C578.13 305.92 578.15 307.77 577.6 309.6C577.05 311.43 575.93 313.27 574.8 315.1C573.66 316.93 572.16 318.77 570.8 320.6C569.43 322.43 567.91 324.27 566.6 326.1C565.28 327.93 563.98 329.92 562.9 331.6C561.81 333.28 560.8 334.82 560.1 336.2C559.4 337.58 558.93 339.28 558.7 339.9L556.54 339.9C556.3 339.28 555.84 337.58 555.14 336.2C554.44 334.82 553.42 333.28 552.34 331.6C551.25 329.92 549.95 327.93 548.64 326.1C547.32 324.27 545.8 322.43 544.44 320.6C543.07 318.77 541.57 316.93 540.44 315.1C539.3 313.27 538.19 311.43 537.64 309.6C537.09 307.77 537.1 305.92 537.14 304.1C537.17 302.28 537.44 300.52 537.84 298.7C538.24 296.88 538.85 295.03 539.54 293.2C540.22 291.37 541.12 289.53 541.94 287.7C542.75 285.87 543.62 284.03 544.44 282.2C545.25 280.37 546.04 278.53 546.84 276.7C547.64 274.87 548.47 273.03 549.24 271.2C550 269.37 550.7 267.53 551.44 265.7C552.17 263.87 552.97 262.03 553.64 260.2C554.3 258.37 554.89 256.53 555.44 254.7C555.99 252.87 556.69 250.12 556.94 249.2Z" fill="#c15575" stroke="#1d1d1d" stroke-width="0.85" stroke-linejoin="round"/>
<line x1="557.62" x2="557.62" y1="272.1" y2="316.6" stroke="#1d1d1d" stroke-width="0.9"/>
<line x1="557.62" x2="557.62" y1="293" y2="313.1" stroke="#1d1d1d" stroke-width="2.8" stroke-linecap="round"/>
<line x1="556.27" x2="558.97" y1="303.6" y2="303.6" stroke="#fff" stroke-width="0.9"/>
<path d="M609.03 254.2C609.2 254.98 609.65 257.35 610.03 258.9C610.41 260.45 610.91 261.97 611.33 263.5C611.75 265.03 612.23 266.57 612.53 268.1C612.83 269.63 613.03 271.17 613.13 272.7C613.23 274.23 613.15 275.75 613.13 277.3C613.11 278.85 612.86 280.58 613.03 282C613.2 283.42 613.5 284.53 614.13 285.8C614.76 287.07 615.56 288.18 616.83 289.6C618.1 291.02 620.18 292.75 621.73 294.3C623.28 295.85 625.05 297.37 626.13 298.9C627.21 300.43 627.8 302.35 628.23 303.5C628.66 304.65 628.83 304.77 628.73 305.8C628.63 306.83 628.58 308.28 627.63 309.7C626.68 311.12 624.78 312.77 623.03 314.3C621.28 315.83 618.83 317.37 617.13 318.9C615.43 320.43 613.98 322.08 612.83 323.5C611.68 324.92 610.85 326.32 610.23 327.4C609.61 328.48 609.31 329.57 609.13 330L607.77 330C607.59 329.57 607.29 328.48 606.67 327.4C606.05 326.32 605.22 324.92 604.07 323.5C602.92 322.08 601.47 320.43 599.77 318.9C598.07 317.37 595.62 315.83 593.87 314.3C592.12 312.77 590.22 311.12 589.27 309.7C588.32 308.28 588.27 306.83 588.17 305.8C588.07 304.77 588.24 304.65 588.67 303.5C589.1 302.35 589.69 300.43 590.77 298.9C591.85 297.37 593.62 295.85 595.17 294.3C596.72 292.75 598.8 291.02 600.07 289.6C601.34 288.18 602.14 287.07 602.77 285.8C603.4 284.53 603.7 283.42 603.87 282C604.04 280.58 603.79 278.85 603.77 277.3C603.75 275.75 603.67 274.23 603.77 272.7C603.87 271.17 604.07 269.63 604.37 268.1C604.67 266.57 605.15 265.03 605.57 263.5C605.99 261.97 606.49 260.45 606.87 258.9C607.25 257.35 607.7 254.98 607.87 254.2Z" fill="#e58370" stroke="#1d1d1d" stroke-width="0.85" stroke-linejoin="round"/>
<line x1="608.45" x2="608.45" y1="300.5" y2="310.6" stroke="#1d1d1d" stroke-width="0.9"/>
<line x1="608.45" x2="608.45" y1="301.8" y2="309.3" stroke="#1d1d1d" stroke-width="2.8" stroke-linecap="round"/>
<line x1="607.1" x2="609.8" y1="305.5" y2="305.5" stroke="#fff" stroke-width="0.9"/>
<path d="M659.86 263C660.06 263.85 660.63 266.48 661.06 268.1C661.5 269.72 662.03 271.17 662.46 272.7C662.9 274.23 663.36 275.75 663.66 277.3C663.96 278.85 664.13 280.45 664.26 282C664.4 283.55 664.18 285.07 664.46 286.6C664.75 288.13 664.95 289.67 665.96 291.2C666.98 292.73 669.01 294.27 670.56 295.8C672.11 297.33 673.98 298.87 675.26 300.4C676.55 301.93 677.55 303.58 678.26 305C678.98 306.42 679.56 307.62 679.56 308.9C679.56 310.18 679.11 311.28 678.26 312.7C677.41 314.12 675.86 315.85 674.46 317.4C673.06 318.95 671.35 320.47 669.86 322C668.38 323.53 666.8 325.07 665.56 326.6C664.33 328.13 663.3 329.67 662.46 331.2C661.63 332.73 661.04 334.25 660.56 335.8C660.09 337.35 659.79 339.72 659.63 340.5L658.93 340.5C658.78 339.72 658.48 337.35 658 335.8C657.53 334.25 656.94 332.73 656.1 331.2C655.27 329.67 654.24 328.13 653 326.6C651.77 325.07 650.19 323.53 648.7 322C647.22 320.47 645.5 318.95 644.1 317.4C642.7 315.85 641.15 314.12 640.3 312.7C639.45 311.28 639 310.18 639 308.9C639 307.62 639.59 306.42 640.3 305C641.02 303.58 642.02 301.93 643.3 300.4C644.59 298.87 646.45 297.33 648 295.8C649.55 294.27 651.59 292.73 652.6 291.2C653.62 289.67 653.82 288.13 654.1 286.6C654.39 285.07 654.17 283.55 654.3 282C654.44 280.45 654.6 278.85 654.9 277.3C655.2 275.75 655.67 274.23 656.1 272.7C656.54 271.17 657.07 269.72 657.5 268.1C657.94 266.48 658.5 263.85 658.7 263Z" fill="#efbc91" stroke="#1d1d1d" stroke-width="0.85" stroke-linejoin="round"/>
<line x1="659.28" x2="659.28" y1="304.8" y2="312.2" stroke="#1d1d1d" stroke-width="0.9"/>
<line x1="659.28" x2="659.28" y1="306.1" y2="310.9" stroke="#1d1d1d" stroke-width="2.8" stroke-linecap="round"/>
<line x1="657.93" x2="660.63" y1="308.4" y2="308.4" stroke="#fff" stroke-width="0.9"/>
</g>
<g>
<rect x="34" y="473" width="305" height="181.5" fill="#eaeaf2"/>
<line x1="34" x2="339" y1="654.5" y2="654.5" stroke="#fff" stroke-width="0.8"/>
<text transform="translate(28.3 658.6) scale(1.05 1)" font-size="10.3" text-anchor="end">0</text>
<line x1="34" x2="339" y1="618.2" y2="618.2" stroke="#fff" stroke-width="0.8"/>
<text transform="translate(28.3 622.3) scale(1.05 1)" font-size="10.3" text-anchor="end">0.2</text>
<line x1="34" x2="339" y1="581.9" y2="581.9" stroke="#fff" stroke-width="0.8"/>
<text transform="translate(28.3 586) scale(1.05 1)" font-size="10.3" text-anchor="end">0.4</text>
<line x1="34" x2="339" y1="545.6" y2="545.6" stroke="#fff" stroke-width="0.8"/>
<text transform="translate(28.3 549.7) scale(1.05 1)" font-size="10.3" text-anchor="end">0.6</text>
<line x1="34" x2="339" y1="509.3" y2="509.3" stroke="#fff" stroke-width="0.8"/>
<text transform="translate(28.3 513.4) scale(1.05 1)" font-size="10.3" text-anchor="end">0.8</text>
<line x1="34" x2="339" y1="473" y2="473" stroke="#fff" stroke-width="0.8"/>
<text transform="translate(28.3 477.1) scale(1.05 1)" font-size="10.3" text-anchor="end">1</text>
<text transform="translate(186.5 469.5) scale(1.075 1)" font-size="10.9" text-anchor="middle" font-weight="bold">E</text>
<text transform="translate(59.42 667.8) scale(1.075 1)" font-size="10.4" text-anchor="middle">ACC</text>
<text transform="translate(110.25 667.8) scale(1.075 1)" font-size="10.4" text-anchor="middle">MCC</text>
<text transform="translate(161.08 667.8) scale(1.075 1)" font-size="10.4" text-anchor="middle">Sen</text>
<text transform="translate(211.92 667.8) scale(1.075 1)" font-size="10.4" text-anchor="middle">Spe</text>
<text transform="translate(262.75 667.8) scale(1.075 1)" font-size="10.4" text-anchor="middle">Pre</text>
<text transform="translate(313.58 667.8) scale(1.075 1)" font-size="10.4" text-anchor="middle">F1</text>
<text transform="translate(186.5 682.2) scale(1.082 1)" font-size="13.0" text-anchor="middle">Performance of ProtBert</text>
<text transform="translate(9.5 563.75) scale(1.075 1) rotate(-90)" font-size="12.8" text-anchor="middle">Value</text>
<path d="M60.4 486.3C61.1 486.73 63.06 487.97 64.6 488.9C66.13 489.83 67.86 490.9 69.6 491.9C71.33 492.9 73.5 493.9 75 494.9C76.5 495.9 77.83 497.15 78.6 497.9C79.36 498.65 79.93 498.78 79.6 499.4C79.26 500.02 78.18 500.87 76.6 501.6C75.01 502.33 72.25 503.05 70.1 503.8C67.95 504.55 65.26 505.43 63.7 506.1C62.13 506.77 61.2 507.52 60.7 507.8L57.54 507.8C57.04 507.52 56.1 506.77 54.54 506.1C52.97 505.43 50.29 504.55 48.14 503.8C45.99 503.05 43.22 502.33 41.64 501.6C40.05 500.87 38.97 500.02 38.64 499.4C38.3 498.78 38.87 498.65 39.64 497.9C40.4 497.15 41.74 495.9 43.24 494.9C44.74 493.9 46.9 492.9 48.64 491.9C50.37 490.9 52.1 489.83 53.64 488.9C55.17 487.97 57.14 486.73 57.84 486.3Z" fill="#84b293" stroke="#313131" stroke-width="0.85" stroke-linejoin="round"/>
<line x1="59.12" x2="59.12" y1="493.1" y2="501.6" stroke="#313131" stroke-width="0.9"/>
<line x1="59.12" x2="59.12" y1="496" y2="499.7" stroke="#313131" stroke-width="2.8" stroke-linecap="round"/>
<line x1="57.77" x2="60.47" y1="498.6" y2="498.6" stroke="#fff" stroke-width="0.9"/>
<path d="M111.33 499.4C111.83 499.88 113.18 501.18 114.33 502.3C115.48 503.42 116.98 504.85 118.23 506.1C119.48 507.35 120.66 508.57 121.83 509.8C123 511.03 124.25 512.27 125.23 513.5C126.21 514.73 126.98 515.97 127.73 517.2C128.48 518.43 129.28 519.7 129.73 520.9C130.18 522.1 130.51 523.28 130.43 524.4C130.35 525.52 130.18 526.43 129.23 527.6C128.28 528.77 126.46 530.15 124.73 531.4C123 532.65 120.61 533.87 118.83 535.1C117.05 536.33 115.2 537.77 114.03 538.8C112.86 539.83 112.33 540.68 111.83 541.3C111.33 541.92 111.16 542.3 111.03 542.5L108.87 542.5C108.74 542.3 108.57 541.92 108.07 541.3C107.57 540.68 107.04 539.83 105.87 538.8C104.7 537.77 102.85 536.33 101.07 535.1C99.29 533.87 96.9 532.65 95.17 531.4C93.44 530.15 91.62 528.77 90.67 527.6C89.72 526.43 89.55 525.52 89.47 524.4C89.39 523.28 89.72 522.1 90.17 520.9C90.62 519.7 91.42 518.43 92.17 517.2C92.92 515.97 93.69 514.73 94.67 513.5C95.65 512.27 96.9 511.03 98.07 509.8C99.24 508.57 100.42 507.35 101.67 506.1C102.92 504.85 104.42 503.42 105.57 502.3C106.72 501.18 108.07 499.88 108.57 499.4Z" fill="#639c8c" stroke="#313131" stroke-width="0.85" stroke-linejoin="round"/>
<line x1="109.95" x2="109.95" y1="512.5" y2="529.1" stroke="#313131" stroke-width="0.9"/>
<line x1="109.95" x2="109.95" y1="518.3" y2="525.4" stroke="#313131" stroke-width="2.8" stroke-linecap="round"/>
<line x1="108.6" x2="111.3" y1="523.9" y2="523.9" stroke="#fff" stroke-width="0.9"/>
<path d="M162.86 483.8C163.18 484.05 163.95 484.67 164.76 485.3C165.58 485.93 166.45 486.83 167.76 487.6C169.08 488.37 171.01 489.15 172.66 489.9C174.31 490.65 176.33 491.35 177.66 492.1C179 492.85 180.03 493.7 180.66 494.4C181.3 495.1 181.53 495.67 181.46 496.3C181.4 496.93 180.83 497.5 180.26 498.2C179.7 498.9 178.75 499.73 178.06 500.5C177.38 501.27 176.8 502.03 176.16 502.8C175.53 503.57 174.9 504.35 174.26 505.1C173.63 505.85 173.13 506.55 172.36 507.3C171.6 508.05 170.55 508.83 169.66 509.6C168.78 510.37 167.88 511.13 167.06 511.9C166.25 512.67 165.46 513.45 164.76 514.2C164.06 514.95 163.38 515.72 162.86 516.4C162.35 517.08 161.86 517.98 161.66 518.3L159.9 518.3C159.7 517.98 159.22 517.08 158.7 516.4C158.19 515.72 157.5 514.95 156.8 514.2C156.1 513.45 155.32 512.67 154.5 511.9C153.69 511.13 152.79 510.37 151.9 509.6C151.02 508.83 149.97 508.05 149.2 507.3C148.44 506.55 147.94 505.85 147.3 505.1C146.67 504.35 146.04 503.57 145.4 502.8C144.77 502.03 144.19 501.27 143.5 500.5C142.82 499.73 141.87 498.9 141.3 498.2C140.74 497.5 140.17 496.93 140.1 496.3C140.04 495.67 140.27 495.1 140.9 494.4C141.54 493.7 142.57 492.85 143.9 492.1C145.24 491.35 147.25 490.65 148.9 489.9C150.55 489.15 152.49 488.37 153.8 487.6C155.12 486.83 155.99 485.93 156.8 485.3C157.62 484.67 158.39 484.05 158.7 483.8Z" fill="#4a8685" stroke="#313131" stroke-width="0.85" stroke-linejoin="round"/>
<line x1="160.78" x2="160.78" y1="494.4" y2="508" stroke="#313131" stroke-width="0.9"/>
<line x1="160.78" x2="160.78" y1="495.7" y2="502" stroke="#313131" stroke-width="2.8" stroke-linecap="round"/>
<line x1="159.43" x2="162.13" y1="496.1" y2="496.1" stroke="#fff" stroke-width="0.9"/>
<path d="M214.1 475.2C214.88 475.7 217.01 477.08 218.8 478.2C220.58 479.32 223 480.67 224.8 481.9C226.6 483.13 228.45 484.48 229.6 485.6C230.75 486.72 231.26 487.6 231.7 488.6C232.13 489.6 232.35 490.6 232.2 491.6C232.05 492.6 231.53 493.48 230.8 494.6C230.06 495.72 228.75 497.07 227.8 498.3C226.85 499.53 225.9 500.77 225.1 502C224.3 503.23 223.8 504.45 223 505.7C222.2 506.95 221.23 508.25 220.3 509.5C219.36 510.75 218.33 511.97 217.4 513.2C216.46 514.43 215.45 515.78 214.7 516.9C213.95 518.02 213.28 519.28 212.9 519.9C212.51 520.52 212.48 520.48 212.4 520.6L210.84 520.6C210.75 520.48 210.72 520.52 210.34 519.9C209.95 519.28 209.29 518.02 208.54 516.9C207.79 515.78 206.77 514.43 205.84 513.2C204.9 511.97 203.87 510.75 202.94 509.5C202 508.25 201.04 506.95 200.24 505.7C199.44 504.45 198.94 503.23 198.14 502C197.34 500.77 196.39 499.53 195.44 498.3C194.49 497.07 193.17 495.72 192.44 494.6C191.7 493.48 191.19 492.6 191.04 491.6C190.89 490.6 191.1 489.6 191.54 488.6C191.97 487.6 192.49 486.72 193.64 485.6C194.79 484.48 196.64 483.13 198.44 481.9C200.24 480.67 202.65 479.32 204.44 478.2C206.22 477.08 208.35 475.7 209.14 475.2Z" fill="#34727f" stroke="#313131" stroke-width="0.85" stroke-linejoin="round"/>
<line x1="211.62" x2="211.62" y1="489.2" y2="506" stroke="#313131" stroke-width="0.9"/>
<line x1="211.62" x2="211.62" y1="490.5" y2="497.9" stroke="#313131" stroke-width="2.8" stroke-linecap="round"/>
<line x1="210.27" x2="212.97" y1="491.3" y2="491.3" stroke="#fff" stroke-width="0.9"/>
<path d="M265.23 479.2C266.01 479.65 268.15 480.95 269.93 481.9C271.71 482.85 274.11 483.9 275.93 484.9C277.75 485.9 279.66 486.92 280.83 487.9C282 488.88 282.63 489.93 282.93 490.8C283.23 491.67 283.18 492.22 282.63 493.1C282.08 493.98 280.86 494.98 279.63 496.1C278.4 497.22 276.6 498.57 275.23 499.8C273.86 501.03 272.6 502.27 271.43 503.5C270.26 504.73 269.26 505.97 268.23 507.2C267.2 508.43 266.03 509.78 265.23 510.9C264.43 512.02 263.73 513.4 263.43 513.9L261.47 513.9C261.17 513.4 260.47 512.02 259.67 510.9C258.87 509.78 257.7 508.43 256.67 507.2C255.64 505.97 254.64 504.73 253.47 503.5C252.3 502.27 251.04 501.03 249.67 499.8C248.3 498.57 246.5 497.22 245.27 496.1C244.04 494.98 242.82 493.98 242.27 493.1C241.72 492.22 241.67 491.67 241.97 490.8C242.27 489.93 242.9 488.88 244.07 487.9C245.24 486.92 247.15 485.9 248.97 484.9C250.79 483.9 253.19 482.85 254.97 481.9C256.75 480.95 258.89 479.65 259.67 479.2Z" fill="#2a5f7b" stroke="#313131" stroke-width="0.85" stroke-linejoin="round"/>
<line x1="262.45" x2="262.45" y1="489.2" y2="503" stroke="#313131" stroke-width="0.9"/>
<line x1="262.45" x2="262.45" y1="490.5" y2="496.4" stroke="#313131" stroke-width="2.8" stroke-linecap="round"/>
<line x1="261.1" x2="263.8" y1="490.1" y2="490.1" stroke="#fff" stroke-width="0.9"/>
<path d="M314.66 486.1C315.36 486.52 317.31 487.68 318.86 488.6C320.41 489.52 322.25 490.6 323.96 491.6C325.68 492.6 327.7 493.62 329.16 494.6C330.63 495.58 332 496.72 332.76 497.5C333.53 498.28 334.2 498.67 333.76 499.3C333.33 499.93 331.88 500.6 330.16 501.3C328.45 502 325.56 502.82 323.46 503.5C321.36 504.18 318.98 504.9 317.56 505.4C316.15 505.9 315.4 506.32 314.96 506.5L311.6 506.5C311.17 506.32 310.42 505.9 309 505.4C307.59 504.9 305.2 504.18 303.1 503.5C301 502.82 298.12 502 296.4 501.3C294.69 500.6 293.24 499.93 292.8 499.3C292.37 498.67 293.04 498.28 293.8 497.5C294.57 496.72 295.94 495.58 297.4 494.6C298.87 493.62 300.89 492.6 302.6 491.6C304.32 490.6 306.15 489.52 307.7 488.6C309.25 487.68 311.2 486.52 311.9 486.1Z" fill="#304d74" stroke="#313131" stroke-width="0.85" stroke-linejoin="round"/>
<line x1="313.28" x2="313.28" y1="492.3" y2="500.5" stroke="#313131" stroke-width="0.9"/>
<line x1="313.28" x2="313.28" y1="497.2" y2="499.1" stroke="#313131" stroke-width="2.8" stroke-linecap="round"/>
<line x1="311.93" x2="314.63" y1="499.5" y2="499.5" stroke="#fff" stroke-width="0.9"/>
</g>
</svg>
</body></html>
